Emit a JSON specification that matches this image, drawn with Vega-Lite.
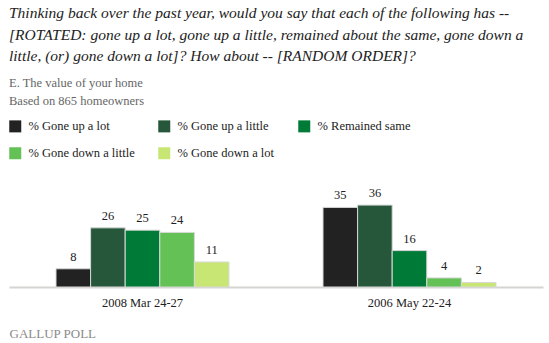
{
  "$schema": "https://vega.github.io/schema/vega-lite/v6.json",
  "width": 534,
  "height": 91,
  "padding": {"left": 9, "top": 6, "right": 6, "bottom": 0},
  "background": "white",
  "title": {
    "text": [
      "Thinking back over the past year, would you say that each of the following has --",
      "[ROTATED: gone up a lot, gone up a little, remained about the same, gone down a",
      "little, (or) gone down a lot]? How about -- [RANDOM ORDER]?"
    ],
    "subtitle": ["E. The value of your home", "Based on 865 homeowners"],
    "anchor": "start",
    "font": "Liberation Serif, serif",
    "fontStyle": "italic",
    "fontWeight": "normal",
    "fontSize": 15.5,
    "lineHeight": 21.5,
    "color": "#222222",
    "subtitleFont": "Liberation Serif, serif",
    "subtitleFontSize": 12.5,
    "subtitleColor": "#666666",
    "subtitleLineHeight": 18,
    "subtitlePadding": 12,
    "offset": 13
  },
  "data": {
    "values": [
      {"date": "2008 Mar 24-27", "response": "% Gone up a lot", "pct": 8},
      {"date": "2008 Mar 24-27", "response": "% Gone up a little", "pct": 26},
      {"date": "2008 Mar 24-27", "response": "% Remained same", "pct": 25},
      {"date": "2008 Mar 24-27", "response": "% Gone down a little", "pct": 24},
      {"date": "2008 Mar 24-27", "response": "% Gone down a lot", "pct": 11},
      {"date": "2006 May 22-24", "response": "% Gone up a lot", "pct": 35},
      {"date": "2006 May 22-24", "response": "% Gone up a little", "pct": 36},
      {"date": "2006 May 22-24", "response": "% Remained same", "pct": 16},
      {"date": "2006 May 22-24", "response": "% Gone down a little", "pct": 4},
      {"date": "2006 May 22-24", "response": "% Gone down a lot", "pct": 2}
    ]
  },
  "encoding": {
    "x": {
      "field": "date",
      "type": "nominal",
      "sort": ["2008 Mar 24-27", "2006 May 22-24"],
      "scale": {"paddingInner": 0.093, "paddingOuter": 0.0465},
      "axis": {
        "title": "GALLUP POLL",
        "titleAnchor": "start",
        "titleFont": "Liberation Serif, serif",
        "titleFontSize": 13,
        "titleFontWeight": "normal",
        "titleColor": "#8a8a8a",
        "titlePadding": 19,
        "labelAngle": 0,
        "labelFont": "Liberation Serif, serif",
        "labelFontSize": 12.5,
        "labelColor": "#222222",
        "labelPadding": 9,
        "ticks": false,
        "domainColor": "#d4d4d0",
        "domainWidth": 2,
        "grid": false
      }
    },
    "xOffset": {
      "field": "response",
      "type": "nominal",
      "sort": ["% Gone up a lot", "% Gone up a little", "% Remained same", "% Gone down a little", "% Gone down a lot"],
      "scale": {"paddingInner": 0, "paddingOuter": 1}
    },
    "y": {
      "field": "pct",
      "type": "quantitative",
      "scale": {"domain": [0, 40]},
      "axis": null
    }
  },
  "layer": [
    {
      "mark": {"type": "bar", "stroke": "#d8d8d8", "strokeWidth": 1},
      "encoding": {
        "color": {
          "field": "response",
          "type": "nominal",
          "sort": ["% Gone up a lot", "% Gone up a little", "% Remained same", "% Gone down a little", "% Gone down a lot"],
          "scale": {
            "domain": ["% Gone up a lot", "% Gone up a little", "% Remained same", "% Gone down a little", "% Gone down a lot"],
            "range": ["#222222", "#26573a", "#007a37", "#63c156", "#c8e673"]
          },
          "legend": {
            "title": null,
            "orient": "top",
            "direction": "horizontal",
            "columns": 3,
            "columnPadding": 23,
            "rowPadding": 14,
            "symbolType": "square",
            "symbolSize": 144,
            "symbolStrokeWidth": 0,
            "labelFont": "Liberation Serif, serif",
            "labelFontSize": 12.5,
            "labelColor": "#222222",
            "labelOffset": 7,
            "offset": 36,
            "labelLimit": 300
          }
        }
      }
    },
    {
      "mark": {"type": "text", "baseline": "bottom", "dy": -5, "font": "Liberation Serif, serif", "fontSize": 12.5, "color": "#222222"},
      "encoding": {"text": {"field": "pct", "type": "quantitative"}}
    }
  ],
  "config": {
    "view": {"stroke": null},
    "font": "Liberation Serif, serif",
    "legend": {"labelFont": "Liberation Serif, serif"},
    "text": {"font": "Liberation Serif, serif"}
  }
}
